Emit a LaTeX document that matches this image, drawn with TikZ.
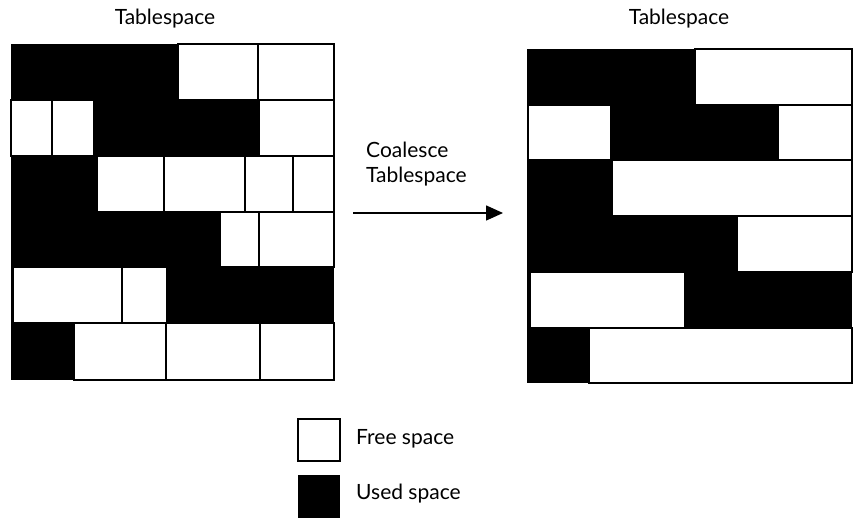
\documentclass[tikz,border=0pt]{standalone}
\usepackage{fontspec}
\setmainfont{Lato}
\usetikzlibrary{arrows.meta}
\tikzset{
  freecell/.style={fill=white,draw=black,line width=1.5pt},
  usedarea/.style={fill=black},
  label/.style={font=\fontsize{21}{25}\selectfont,inner sep=0pt},
  arr/.style={line width=1.5pt,-{Triangle[length=17pt,width=15pt]}},
}
\begin{document}
\begin{tikzpicture}[x=1pt,y=-1pt]
\useasboundingbox (0,0) rectangle (853,518);
% titles
\node[label] (t1) at (165,19) {Tablespace};
\node[label] (t2) at (679,19) {Tablespace};
% left grid
\fill[usedarea] (11,44) rectangle (334,380);
\foreach \a/\b/\c/\d in {
 178/44/258/100, 258/44/334/100,
 11/100/52/156, 52/100/94/156, 259/100/334/156,
 97/156/164/212, 164/156/245/212, 245/156/293/212, 293/156/334/212,
 220/212/259/267, 259/212/334/267,
 13/267/122/323, 122/267/167/323,
 74/323/166/380, 166/323/260/380, 260/323/334/380}
 \draw[freecell] (\a,\b) rectangle (\c,\d);
% right grid
\fill[usedarea] (527,49) rectangle (852,383);
\foreach \a/\b/\c/\d in {
 695/49/852/105,
 528/105/611/160, 778/105/852/160,
 612/160/852/216,
 737/216/852/272,
 530/272/685/328,
 589/328/852/383}
 \draw[freecell] (\a,\b) rectangle (\c,\d);
% arrow
\node[label,anchor=west,align=left] (lab) at (366,164) {Coalesce\\Tablespace};
\coordinate (as) at (353,213);
\coordinate (ae) at (503,213);
\draw[arr] (as) -- (ae);
% legend
\draw[freecell] (298,419) rectangle (340,461);
\fill[usedarea] (298,475) rectangle (340,518);
\node[label,anchor=west] (lf) at (356,439) {Free space};
\node[label,anchor=west] (lu) at (356,494) {Used space};
\end{tikzpicture}
\end{document}
